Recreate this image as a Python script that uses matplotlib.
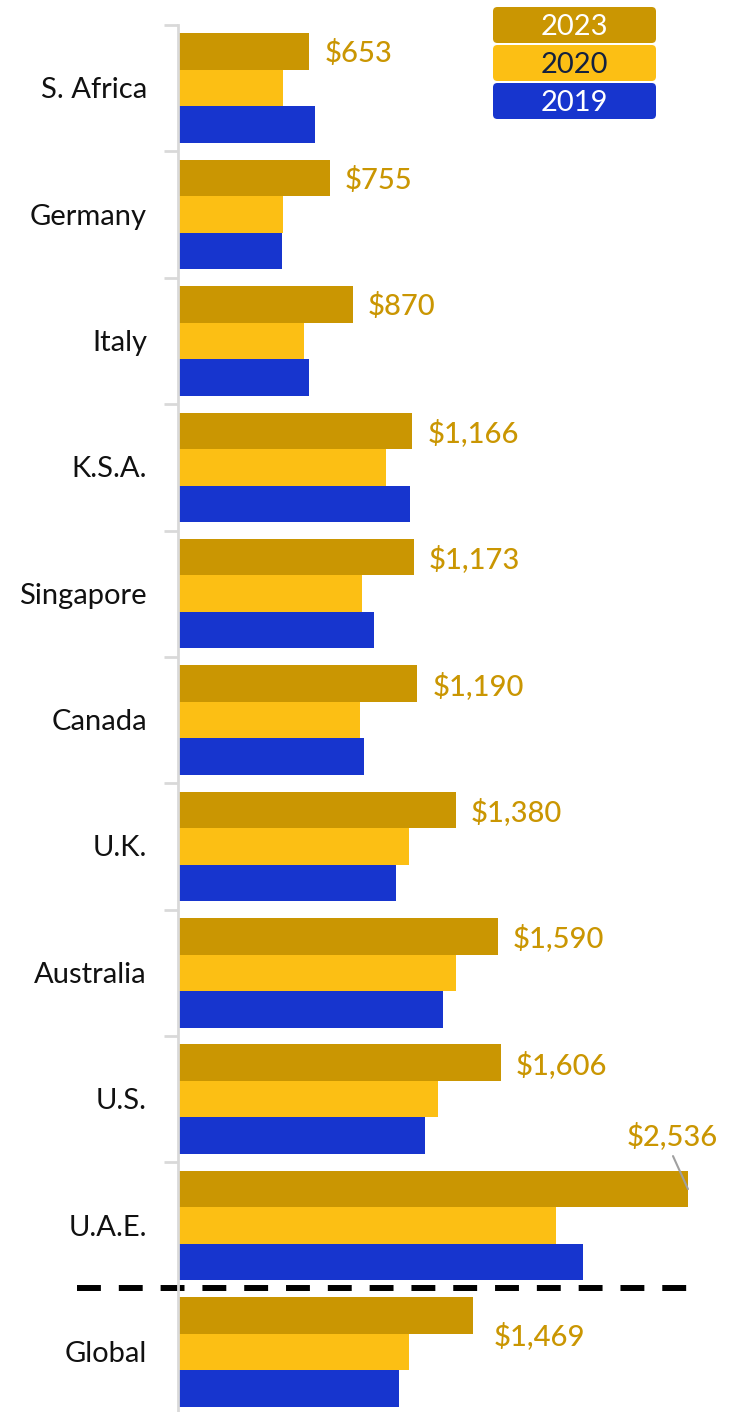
import numpy as np
import matplotlib.pyplot as plt
from matplotlib.patches import FancyBboxPatch

plt.rcParams['font.family'] = ['Lato', 'DejaVu Sans']

# countries top to bottom, Global last (below the dashed line)
countries = ["S. Africa", "Germany", "Italy", "K.S.A.", "Singapore", "Canada",
             "U.K.", "Australia", "U.S.", "U.A.E.", "Global"]
v2023 = [653, 755, 870, 1166, 1173, 1190, 1380, 1590, 1606, 2536, 1469]
v2020 = [522, 522, 627, 1034, 915, 905, 1149, 1382, 1293, 1880, 1149]
v2019 = [681, 517, 651, 1154, 975, 925, 1084, 1318, 1228, 2014, 1099]

c2023 = "#CA9602"
c2020 = "#FCBF14"
c2019 = "#1735CE"

W, H = 731, 1412
fig = plt.figure(figsize=(W / 100, H / 100), dpi=100)
# axes from x=178px to right edge, y=25px to bottom
ax = fig.add_axes([178 / W, 0, 1 - 178 / W, 1 - 25 / H])

y = np.arange(len(countries))
bh = 0.289
ax.barh(y - bh, v2023, height=bh, color=c2023)
ax.barh(y, v2020, height=bh, color=c2020)
ax.barh(y + bh, v2019, height=bh, color=c2019)

ax.set_xlim(0, 553 / 0.2011)
ax.set_ylim(10.475, -0.5)

for s in ["top", "right", "bottom"]:
    ax.spines[s].set_visible(False)
ax.spines["left"].set_color("#D9D9D9")
ax.spines["left"].set_linewidth(2)
ax.set_xticks([])
ax.set_yticks(np.arange(-0.5, 10, 1))
ax.set_yticklabels([])
ax.tick_params(axis="y", length=10, width=2, color="#D9D9D9")

fs = 21

# category labels
for i, name in enumerate(countries):
    ax.annotate(name, (0, i), xytext=(-31, -2), textcoords="offset pixels",
                ha="right", va="center", fontsize=fs, color="#111111")

# value labels for 2023
for i, v in enumerate(v2023):
    txt = "$" + format(v, ",")
    if countries[i] == "U.A.E.":
        ax.annotate(txt, (v, i - bh), xytext=(-16, 53),
                    textcoords="offset pixels", ha="center", va="center",
                    fontsize=fs, color=c2023, fontweight="medium")
        ax.annotate("", (v, i - bh), xytext=(-15, 33),
                    textcoords="offset pixels",
                    arrowprops=dict(arrowstyle="-", color="#A0A0A0", lw=1.5,
                                    shrinkA=0, shrinkB=0))
    elif countries[i] == "Global":
        ax.annotate(txt, (v, i - bh / 2), xytext=(20, -2),
                    textcoords="offset pixels", ha="left", va="center",
                    fontsize=fs, color=c2023, fontweight="medium")
    else:
        ax.annotate(txt, (v, i - bh), xytext=(15, -2),
                    textcoords="offset pixels", ha="left", va="center",
                    fontsize=fs, color=c2023, fontweight="medium")

# dashed separator above Global
ax.plot([-(178 - 77) / 0.2011, 2536], [9.49, 9.49], color="black", lw=4.3,
        ls=(0, (4.0, 3.0)), clip_on=False, dash_capstyle="butt")

# legend boxes
legend = [("2023", c2023, "white"), ("2020", c2020, "#13213F"), ("2019", c2019, "white")]
for k, (lab, fc, tc) in enumerate(legend):
    top = 7 + k * 38
    box = FancyBboxPatch((493 / W, 1 - (top + 36) / H), 163 / W, 36 / H,
                         boxstyle="round,pad=0,rounding_size=0.006",
                         transform=fig.transFigure, fc=fc, ec="none",
                         mutation_aspect=W / H)
    fig.add_artist(box)
    fig.text(574.5 / W, 1 - (top + 20) / H, lab, ha="center", va="center",
             fontsize=fs, color=tc)

fig.savefig("out.png", dpi=100)
